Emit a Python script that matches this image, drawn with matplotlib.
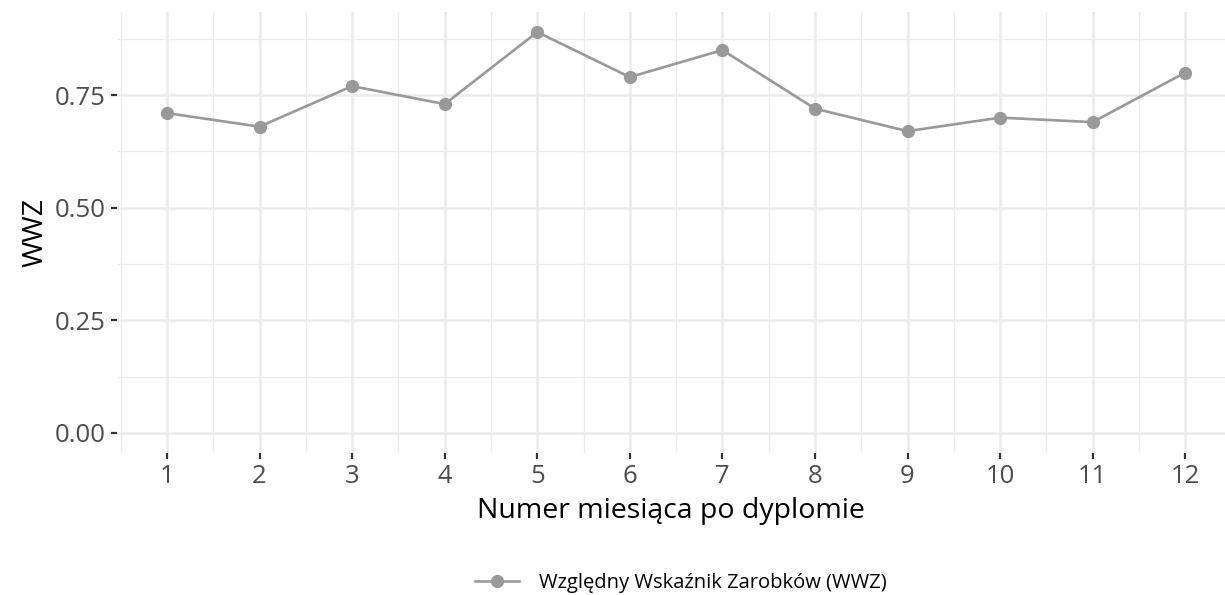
import matplotlib as mpl
mpl.use("Agg")
import matplotlib.pyplot as plt
from matplotlib.ticker import MultipleLocator

months = [1, 2, 3, 4, 5, 6, 7, 8, 9, 10, 11, 12]
wwz = [0.71, 0.68, 0.77, 0.73, 0.89, 0.79, 0.85, 0.72, 0.67, 0.70, 0.69, 0.80]
y_ticks = [0.00, 0.25, 0.50, 0.75]
series_label = "Względny Wskaźnik Zarobków (WWZ)"

plt.rcParams["font.family"] = ["Open Sans", "DejaVu Sans"]

fig = plt.figure(figsize=(12.25, 5.95), dpi=100)
# panel placed in pixels: left 117, right 1225, top 12, bottom 453
ax = fig.add_axes([117 / 1225, 1 - 453 / 595, (1225 - 117) / 1225, (453 - 12) / 595])

grid_col = "#EBEBEB"
ax.set_xlim(0.46, 12.43)
ax.set_ylim(-0.0445, 0.9345)
ax.set_xticks(months)
ax.set_yticks(y_ticks)
ax.set_yticklabels(["%.2f" % v for v in y_ticks])
ax.xaxis.set_minor_locator(MultipleLocator(1, offset=0.5))
ax.yaxis.set_minor_locator(MultipleLocator(0.25, offset=0.125))
ax.grid(which="major", color=grid_col, linewidth=1.8, zorder=0)
ax.grid(which="minor", color=grid_col, linewidth=0.9, zorder=0)
ax.set_axisbelow(True)
for s in ax.spines.values():
	s.set_visible(False)

ax.tick_params(which="major", length=4, width=1.6, color="#333333", labelcolor="#4D4D4D", labelsize=18.5, pad=4)
ax.tick_params(which="minor", length=0)

ax.plot(months, wwz, color="#999999", linewidth=1.9, marker="o", markersize=8.5, label=series_label, zorder=3)

ax.set_xlabel("Numer miesiąca po dyplomie", fontsize=20.5, color="black", labelpad=6)
ax.set_ylabel("WWZ", fontsize=20.5, color="black", labelpad=4)

fig.legend(loc="center", bbox_to_anchor=(681 / 1225, 12 / 595), frameon=False, fontsize=14.5,
	handlelength=2.2, handletextpad=1.0)

fig.savefig("out.png", dpi=100)
